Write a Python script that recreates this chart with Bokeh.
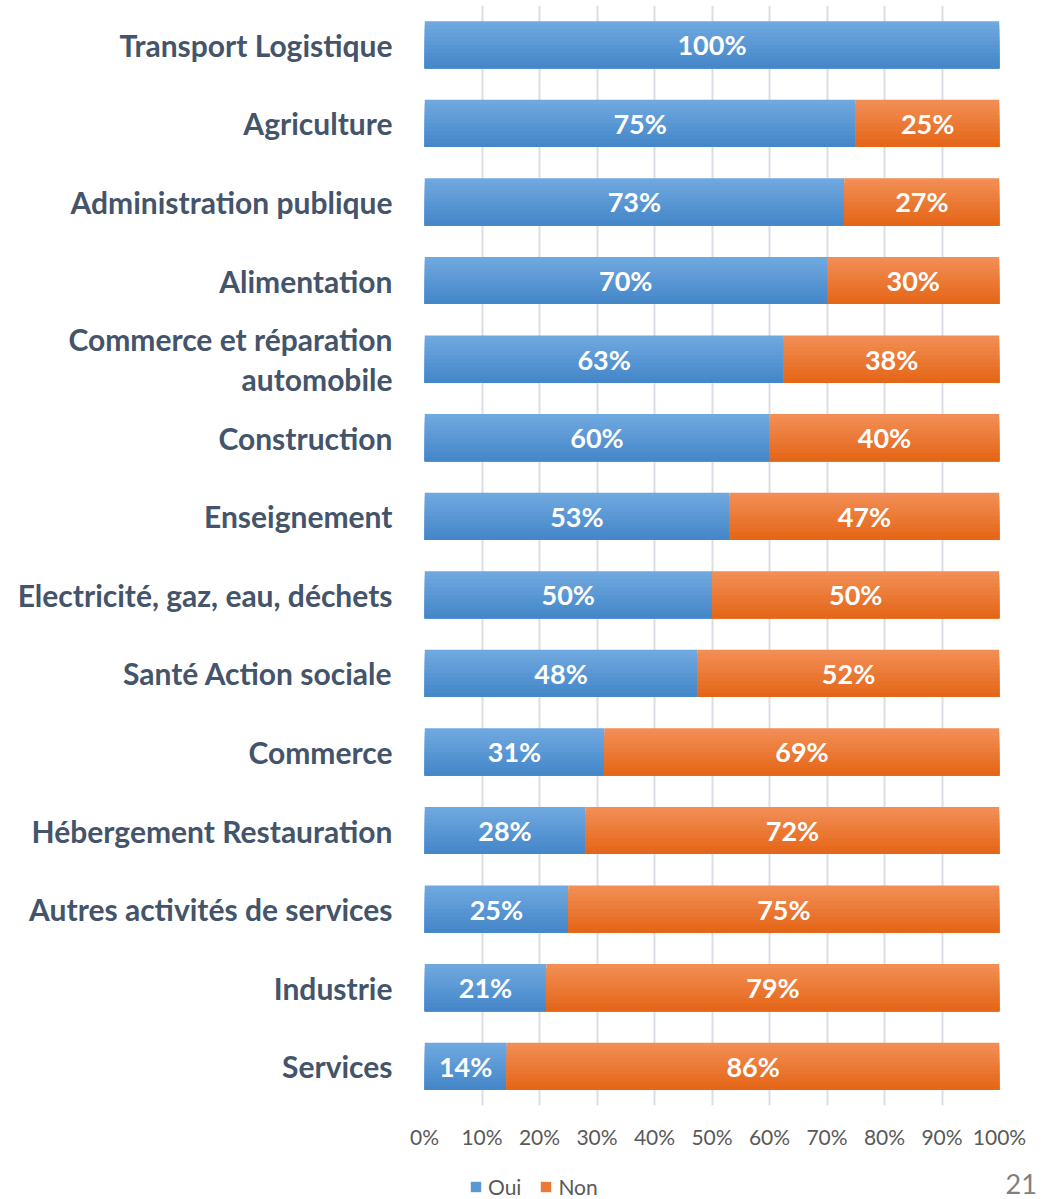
from bokeh.plotting import figure
from bokeh.layouts import column
from bokeh.models import (Range1d, FixedTicker, LabelSet, ColumnDataSource, Legend,
                          LegendItem, LinearAxis)
from bokeh.core.properties import value
from bokeh.embed import file_html
from bokeh.resources import INLINE

categories = ["Transport Logistique", "Agriculture", "Administration publique",
              "Alimentation", "Commerce et réparation\nautomobile", "Construction",
              "Enseignement", "Electricité, gaz, eau, déchets", "Santé Action sociale",
              "Commerce", "Hébergement Restauration", "Autres activités de services",
              "Industrie", "Services"]
oui = [100, 75, 73, 70, 62.5, 60, 53, 50, 47.5, 31.3, 28, 25, 21.2, 14.3]
non = [0, 25, 27, 30, 37.5, 40, 47, 50, 52.5, 68.7, 72, 75, 78.8, 85.7]
oui_labels = ["100%", "75%", "73%", "70%", "63%", "60%", "53%", "50%", "48%",
              "31%", "28%", "25%", "21%", "14%"]
non_labels = ["", "25%", "27%", "30%", "38%", "40%", "47%", "50%", "52%",
              "69%", "72%", "75%", "79%", "86%"]
x_ticks = [0, 10, 20, 30, 40, 50, 60, 70, 80, 90, 100]
x_tick_labels = ["0%", "10%", "20%", "30%", "40%", "50%", "60%", "70%", "80%", "90%", "100%"]
series_names = ["Oui", "Non"]
page_number = "21"

FONT = "Lato"
LABEL_COLOR = "#44546A"
TICK_COLOR = "#595959"
BLUE_TOP, BLUE_BOT = (0x6F, 0xA8, 0xDF), (0x45, 0x87, 0xC9)
ORANGE_TOP, ORANGE_BOT = (0xF2, 0x8D, 0x55), (0xE4, 0x67, 0x18)
BAR_H = 0.6
N_STEPS = 12

n = len(categories)
idx = list(range(n))

p = figure(width=1045, height=1160, output_backend="svg", toolbar_location=None,
           x_range=Range1d(0, 100), y_range=Range1d(n - 0.5, -0.5),
           min_border_left=424, min_border_right=46, min_border_top=5,
           min_border_bottom=55, outline_line_color=None)
p.background_fill_color = "white"
p.border_fill_color = "white"


def mix(c1, c2, t):
    return "#%02x%02x%02x" % tuple(int(round(a + (b - a) * t)) for a, b in zip(c1, c2))


for name, left_vals, vals, (ctop, cbot) in [
        ("Oui", [0] * n, oui, (BLUE_TOP, BLUE_BOT)),
        ("Non", oui, non, (ORANGE_TOP, ORANGE_BOT))]:
    # vertical gradient: nested layers, each starting a bit lower and reaching the bar bottom
    for j in range(N_STEPS):
        t = j / (N_STEPS - 1)
        col = mix(ctop, cbot, t)
        off = j * BAR_H / N_STEPS
        hh = BAR_H - off
        ys = [i - BAR_H / 2 + off + hh / 2 for i in idx]
        src = ColumnDataSource(dict(y=ys, left=left_vals,
                                    right=[l + v for l, v in zip(left_vals, vals)]))
        p.hbar(y="y", left="left", right="right", height=hh,
               source=src, fill_color=col, line_color=None)

# data labels
lab_src = ColumnDataSource(dict(
    x=[v / 2 for v in oui] + [o + v / 2 for o, v in zip(oui, non)],
    y=idx + idx,
    text=oui_labels + non_labels))
p.add_layout(LabelSet(x="x", y="y", text="text", source=lab_src,
                      text_color="white", text_font=value(FONT), text_font_style="bold",
                      text_font_size="27px", text_align="center",
                      text_baseline="middle"))

# axes
p.xaxis.ticker = FixedTicker(ticks=x_ticks)
p.xaxis.major_label_overrides = {t: l for t, l in zip(x_ticks, x_tick_labels)}
p.xaxis.axis_line_color = None
p.xaxis.major_tick_line_color = None
p.xaxis.major_tick_out = 0
p.xaxis.major_tick_in = 0
p.xaxis.minor_tick_line_color = None
p.xaxis.major_label_standoff = 18
p.xaxis.major_label_text_font = FONT
p.xaxis.major_label_text_font_size = "21px"
p.xaxis.major_label_text_color = TICK_COLOR

p.yaxis.ticker = FixedTicker(ticks=idx)
p.yaxis.major_label_overrides = {i: c for i, c in zip(idx, categories)}
p.yaxis.axis_line_color = None
p.yaxis.major_tick_line_color = None
p.yaxis.major_tick_out = 0
p.yaxis.major_tick_in = 0
p.yaxis.minor_tick_line_color = None
p.yaxis.major_label_standoff = 32
p.yaxis.major_label_text_font = FONT
p.yaxis.major_label_text_font_style = "bold"
p.yaxis.major_label_text_font_size = "30px"
p.yaxis.major_label_text_line_height = 1.1
p.yaxis.major_label_text_align = "center"
p.yaxis.major_label_text_color = LABEL_COLOR

p.xgrid.grid_line_color = "#D9DDE5"
p.xgrid.grid_line_width = 2
p.ygrid.grid_line_color = None

# bottom strip: legend and page number (its frame lines up with the chart's frame)
q = figure(width=1045, height=39, output_backend="svg", toolbar_location=None,
           x_range=Range1d(0, 100), y_range=Range1d(0, 39),
           x_axis_type=None, y_axis_type=None, min_border=0,
           outline_line_color=None)
q.grid.visible = False
q.background_fill_color = "white"
q.border_fill_color = "white"
hidden = dict(y=[-100], left=[0], right=[1])
r_oui = q.hbar(y="y", left="left", right="right", height=1,
               source=ColumnDataSource(hidden),
               fill_color=mix(BLUE_TOP, BLUE_BOT, 0.5), line_color=None)
r_non = q.hbar(y="y", left="left", right="right", height=1,
               source=ColumnDataSource(hidden),
               fill_color=mix(ORANGE_TOP, ORANGE_BOT, 0.5), line_color=None)
legend = Legend(items=[LegendItem(label=series_names[0], renderers=[r_oui]),
                       LegendItem(label=series_names[1], renderers=[r_non])],
                location=(45, 0), orientation="horizontal",
                glyph_width=13, glyph_height=13, label_text_font=FONT,
                label_text_font_size="21px", label_text_color=TICK_COLOR,
                padding=0, margin=0, spacing=18, label_standoff=6,
                border_line_color=None, background_fill_alpha=0)
q.add_layout(legend)

page_axis = LinearAxis(ticker=FixedTicker(ticks=[4]),
                       major_label_overrides={4: page_number},
                       axis_line_color=None, major_tick_line_color=None,
                       major_tick_out=0, major_tick_in=0, minor_tick_line_color=None,
                       major_label_standoff=6, major_label_text_font=FONT,
                       major_label_text_font_size="27px",
                       major_label_text_color="#808080")
q.add_layout(page_axis, "right")

layout = column(p, q, spacing=0)
open("out.html", "w").write(file_html(layout, INLINE))
